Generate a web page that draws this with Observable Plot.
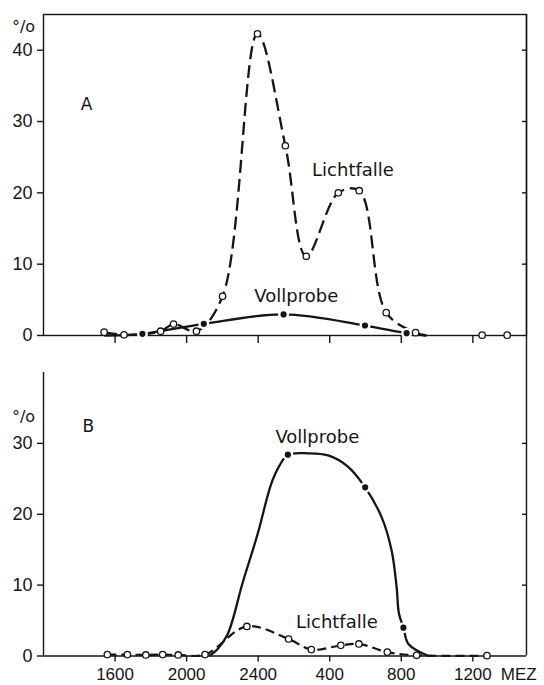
<!DOCTYPE html>
<html><head><meta charset="utf-8">
<script src="https://cdn.jsdelivr.net/npm/d3@7"></script>
<script src="https://cdn.jsdelivr.net/npm/@observablehq/plot@0.6"></script>
<style>
body{margin:0;background:#fff;}
#chart{width:544px;height:685px;position:relative;background:#fff;}
#chart svg{display:block;}
</style></head><body><div id="chart"></div>
<script>
// x = hour of day, continuing past midnight (24 = 2400, 28 = 400, 32 = 800, 36 = 1200)
const xTicks = [16, 20, 24, 28, 32, 36];
const xTickLabels = ["1600", "2000", "2400", "400", "800", "1200"];
const yTicksA = [0, 10, 20, 30, 40];
const yTicksB = [0, 10, 20, 30];

// Panel A – Lichtfalle (open circles)
const aLichtHours  = [15.39, 16.50, 18.55, 19.27, 20.55, 22.01, 23.96, 25.52, 26.69, 28.48, 29.65, 31.16, 32.80, 36.52, 37.92];
const aLichtValues = [0.47, 0.1, 0.6, 1.6, 0.6, 5.5, 42.3, 26.6, 11.1, 20.0, 20.3, 3.2, 0.4, 0.05, 0.05];
// Panel A – Lichtfalle drawn curve (ends at ~0 after 0800)
const aLichtCurveHours  = [15.39, 16.50, 18.55, 19.27, 20.55, 22.01, 23.96, 25.52, 26.69, 28.48, 29.65, 31.16, 32.80, 33.4];
const aLichtCurveValues = [0.47, 0.1, 0.6, 1.6, 0.6, 5.5, 42.3, 26.6, 11.1, 20.0, 20.3, 3.2, 0.4, 0];
// Panel A – Vollprobe (filled dots)
const aVollHours  = [17.53, 20.96, 25.42, 29.97, 32.30];
const aVollValues = [0.24, 1.64, 2.95, 1.4, 0.33];
const aVollCurveHours  = [15.4, 17.53, 20.96, 25.42, 29.97, 32.30, 33.4];
const aVollCurveValues = [0, 0.24, 1.64, 2.95, 1.4, 0.33, 0];

// Panel B – Vollprobe (filled dots)
const bVollHours  = [25.66, 29.98, 32.12];
const bVollValues = [28.4, 23.8, 4.0];
const bVollCurveHours  = [21.27, 21.74, 22.30, 23.14, 23.98, 24.73, 25.2, 25.66, 26.79, 27.91, 29.03, 29.98, 30.90, 31.46, 31.74, 31.87, 32.12, 32.40, 33.52];
const bVollCurveValues = [0, 1.0, 3.1, 10.4, 17.3, 24.3, 26.9, 28.4, 28.6, 28.3, 26.7, 23.8, 19.6, 14.9, 9.7, 6.0, 4.0, 1.7, 0];
// Panel B – Lichtfalle (open circles)
const bLichtHours  = [15.57, 16.69, 17.72, 18.66, 19.53, 21.03, 23.37, 25.70, 26.97, 28.62, 29.63, 31.22, 32.86, 36.79];
const bLichtValues = [0.2, 0.2, 0.15, 0.2, 0.15, 0.2, 4.17, 2.4, 0.9, 1.5, 1.7, 0.55, 0.1, 0.05];

const zip = (xs, ys) => xs.map((x, i) => ({x, y: ys[i]}));
const ink = "#151515";
const font = "'DejaVu Sans', sans-serif";
const tickFont = "'Liberation Sans', 'DejaVu Sans', sans-serif";
const xFmt = d => xTickLabels[xTicks.indexOf(d)];

const common = {
  width: 544, marginLeft: 43, marginRight: 18,
  x: {domain: [12, 39]},
  style: {fontFamily: tickFont, fontSize: "18px", color: ink, background: "white", overflow: "visible"}
};

const curveLine = (data, dash, w) => Plot.line(data, {x: "x", y: "y", curve: "catmull-rom", stroke: ink, strokeWidth: w, strokeDasharray: dash, strokeLinecap: "butt"});
const openDots = data => Plot.dot(data, {x: "x", y: "y", r: 3.2, fill: "white", stroke: ink, strokeWidth: 1.3});
const fullDots = data => Plot.dot(data, {x: "x", y: "y", r: 4.3, fill: ink, stroke: "white", strokeWidth: 2.4});
const label = (txt, x, y, size = 18) => Plot.text([txt], {x: () => x, y: () => y, text: d => d, fontSize: size, fontFamily: font, fill: ink});

const plotA = Plot.plot({
  ...common, height: 350, marginTop: 14, marginBottom: 15,
  y: {domain: [0, 45]},
  marks: [
    Plot.frame({stroke: ink, strokeWidth: 1.4}),
    Plot.ruleX([39], {stroke: ink, strokeWidth: 1.4, insetBottom: -15}),
    Plot.axisX({ticks: xTicks, tickSize: 8, tickFormat: () => "", label: null, stroke: ink, strokeWidth: 1.4}),
    Plot.axisY({ticks: yTicksA, tickSize: 6, tickPadding: 5, label: null, stroke: ink, strokeWidth: 1.4}),
    Plot.axisY({anchor: "right", ticks: yTicksA.slice(1), tickSize: -5, tickFormat: () => "", label: null, stroke: ink, strokeWidth: 1.4}),
    curveLine(zip(aVollCurveHours, aVollCurveValues), null, 2.3),
    curveLine(zip(aLichtCurveHours, aLichtCurveValues), "13,6", 2.3),
    fullDots(zip(aVollHours, aVollValues)),
    openDots(zip(aLichtHours, aLichtValues)),
    label("A", 14.41, 32.4, 17),
    label("Lichtfalle", 29.3, 23.2),
    label("Vollprobe", 26.13, 5.5),
    Plot.text(["°/o"], {x: () => 12, y: () => 43.3, dx: -20, text: d => d, fontSize: 16, fontFamily: font, fill: ink})
  ]
});

const plotB = Plot.plot({
  ...common, height: 335, marginTop: 22, marginBottom: 29.5,
  y: {domain: [0, 40]},
  marks: [
    Plot.ruleX([12], {stroke: ink, strokeWidth: 1.4}),
    Plot.ruleY([0], {stroke: ink, strokeWidth: 1.4}),
    Plot.ruleX([39], {stroke: ink, strokeWidth: 1.4, insetTop: -22}),
    Plot.axisX({ticks: xTicks, tickSize: 6, tickPadding: 6, tickFormat: xFmt, label: null, stroke: ink, strokeWidth: 1.4, fontSize: 17}),
    Plot.text([xTicks[xTicks.length - 1]], {x: d => d, frameAnchor: "bottom", dx: 28, dy: 12, lineAnchor: "top", textAnchor: "start", text: () => "MEZ", fontSize: 17, fontFamily: tickFont, fill: ink, letterSpacing: 2}),
    Plot.axisY({ticks: yTicksB, tickSize: 6, tickPadding: 5, label: null, stroke: ink, strokeWidth: 1.4}),
    Plot.axisY({anchor: "right", ticks: yTicksB.slice(1), tickSize: -5, tickFormat: () => "", label: null, stroke: ink, strokeWidth: 1.4}),
    curveLine(zip(bVollCurveHours, bVollCurveValues), null, 2.3),
    curveLine(zip(bLichtHours, bLichtValues), "9,5", 2.2),
    fullDots(zip(bVollHours, bVollValues)),
    openDots(zip(bLichtHours, bLichtValues)),
    label("B", 14.5, 32.4, 17),
    label("Vollprobe", 27.31, 30.9),
    label("Lichtfalle", 28.4, 4.8),
    Plot.text(["°/o"], {x: () => 12, y: () => 33.8, dx: -20, text: d => d, fontSize: 16, fontFamily: font, fill: ink})
  ]
});

const root = document.getElementById("chart");
root.appendChild(plotA);
root.appendChild(plotB);
</script></body></html>
